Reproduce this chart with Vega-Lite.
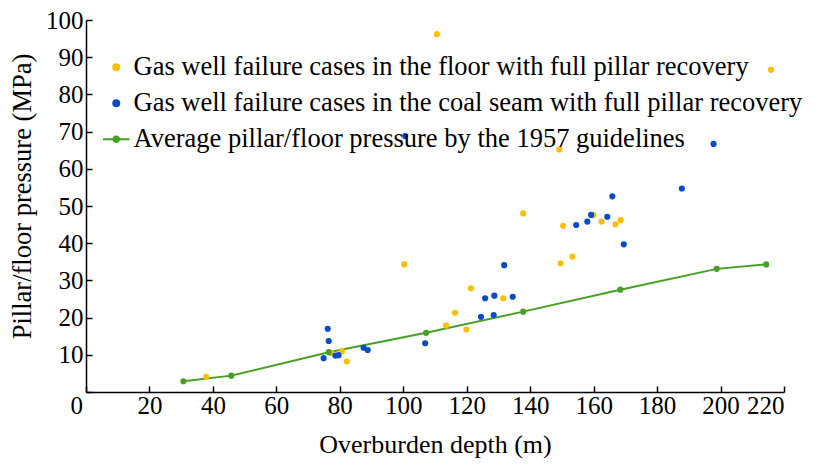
{
  "$schema": "https://vega.github.io/schema/vega-lite/v6.json",
  "width": 698,
  "height": 372,
  "autosize": {"type": "none"},
  "padding": {"left": 86, "top": 20, "right": 30, "bottom": 76},
  "background": "white",
  "config": {
    "view": {"stroke": null},
    "font": "Liberation Serif",
    "axis": {"grid": false, "domainColor": "#000", "domainWidth": 1.5, "tickColor": "#000", "tickWidth": 1.5, "tickSize": -6, "labelFont": "Liberation Serif", "labelFontSize": 25, "labelColor": "#000", "titleFont": "Liberation Serif", "titleFontWeight": "normal", "titleColor": "#000"}
  },
  "data": {"values": [
    {"series": "Gas well failure cases in the floor with full pillar recovery", "depth": 110.6, "pressure": 96.2},
    {"series": "Gas well failure cases in the floor with full pillar recovery", "depth": 215.9, "pressure": 86.6},
    {"series": "Gas well failure cases in the floor with full pillar recovery", "depth": 149.2, "pressure": 65.2},
    {"series": "Gas well failure cases in the floor with full pillar recovery", "depth": 37.9, "pressure": 4.1},
    {"series": "Gas well failure cases in the floor with full pillar recovery", "depth": 100.3, "pressure": 34.3},
    {"series": "Gas well failure cases in the floor with full pillar recovery", "depth": 80.7, "pressure": 10.9},
    {"series": "Gas well failure cases in the floor with full pillar recovery", "depth": 82.2, "pressure": 8.2},
    {"series": "Gas well failure cases in the floor with full pillar recovery", "depth": 77.3, "pressure": 10.5},
    {"series": "Gas well failure cases in the floor with full pillar recovery", "depth": 137.8, "pressure": 48.0},
    {"series": "Gas well failure cases in the floor with full pillar recovery", "depth": 150.4, "pressure": 44.7},
    {"series": "Gas well failure cases in the floor with full pillar recovery", "depth": 149.6, "pressure": 34.6},
    {"series": "Gas well failure cases in the floor with full pillar recovery", "depth": 153.3, "pressure": 36.4},
    {"series": "Gas well failure cases in the floor with full pillar recovery", "depth": 121.3, "pressure": 27.9},
    {"series": "Gas well failure cases in the floor with full pillar recovery", "depth": 116.3, "pressure": 21.3},
    {"series": "Gas well failure cases in the floor with full pillar recovery", "depth": 113.5, "pressure": 17.9},
    {"series": "Gas well failure cases in the floor with full pillar recovery", "depth": 119.9, "pressure": 16.8},
    {"series": "Gas well failure cases in the floor with full pillar recovery", "depth": 131.5, "pressure": 25.2},
    {"series": "Gas well failure cases in the floor with full pillar recovery", "depth": 159.9, "pressure": 47.6},
    {"series": "Gas well failure cases in the floor with full pillar recovery", "depth": 162.5, "pressure": 45.8},
    {"series": "Gas well failure cases in the floor with full pillar recovery", "depth": 166.9, "pressure": 45.1},
    {"series": "Gas well failure cases in the floor with full pillar recovery", "depth": 168.5, "pressure": 46.2},
    {"series": "Gas well failure cases in the coal seam with full pillar recovery", "depth": 100.6, "pressure": 68.8},
    {"series": "Gas well failure cases in the coal seam with full pillar recovery", "depth": 197.8, "pressure": 66.7},
    {"series": "Gas well failure cases in the coal seam with full pillar recovery", "depth": 76.2, "pressure": 17.0},
    {"series": "Gas well failure cases in the coal seam with full pillar recovery", "depth": 76.5, "pressure": 13.7},
    {"series": "Gas well failure cases in the coal seam with full pillar recovery", "depth": 74.9, "pressure": 9.1},
    {"series": "Gas well failure cases in the coal seam with full pillar recovery", "depth": 78.6, "pressure": 9.8},
    {"series": "Gas well failure cases in the coal seam with full pillar recovery", "depth": 79.6, "pressure": 9.9},
    {"series": "Gas well failure cases in the coal seam with full pillar recovery", "depth": 87.5, "pressure": 11.9},
    {"series": "Gas well failure cases in the coal seam with full pillar recovery", "depth": 88.8, "pressure": 11.3},
    {"series": "Gas well failure cases in the coal seam with full pillar recovery", "depth": 106.9, "pressure": 13.1},
    {"series": "Gas well failure cases in the coal seam with full pillar recovery", "depth": 124.5, "pressure": 20.2},
    {"series": "Gas well failure cases in the coal seam with full pillar recovery", "depth": 128.5, "pressure": 20.7},
    {"series": "Gas well failure cases in the coal seam with full pillar recovery", "depth": 125.8, "pressure": 25.2},
    {"series": "Gas well failure cases in the coal seam with full pillar recovery", "depth": 128.7, "pressure": 25.9},
    {"series": "Gas well failure cases in the coal seam with full pillar recovery", "depth": 134.5, "pressure": 25.6},
    {"series": "Gas well failure cases in the coal seam with full pillar recovery", "depth": 131.8, "pressure": 34.1},
    {"series": "Gas well failure cases in the coal seam with full pillar recovery", "depth": 154.5, "pressure": 44.9},
    {"series": "Gas well failure cases in the coal seam with full pillar recovery", "depth": 158.0, "pressure": 45.8},
    {"series": "Gas well failure cases in the coal seam with full pillar recovery", "depth": 159.2, "pressure": 47.6},
    {"series": "Gas well failure cases in the coal seam with full pillar recovery", "depth": 164.3, "pressure": 47.1},
    {"series": "Gas well failure cases in the coal seam with full pillar recovery", "depth": 165.9, "pressure": 52.6},
    {"series": "Gas well failure cases in the coal seam with full pillar recovery", "depth": 169.5, "pressure": 39.7},
    {"series": "Gas well failure cases in the coal seam with full pillar recovery", "depth": 187.8, "pressure": 54.7},
    {"series": "Average pillar/floor pressure by the 1957 guidelines", "depth": 30.7, "pressure": 2.9},
    {"series": "Average pillar/floor pressure by the 1957 guidelines", "depth": 45.8, "pressure": 4.4},
    {"series": "Average pillar/floor pressure by the 1957 guidelines", "depth": 76.5, "pressure": 10.7},
    {"series": "Average pillar/floor pressure by the 1957 guidelines", "depth": 107.2, "pressure": 15.9},
    {"series": "Average pillar/floor pressure by the 1957 guidelines", "depth": 137.8, "pressure": 21.6},
    {"series": "Average pillar/floor pressure by the 1957 guidelines", "depth": 168.4, "pressure": 27.5},
    {"series": "Average pillar/floor pressure by the 1957 guidelines", "depth": 198.8, "pressure": 33.1},
    {"series": "Average pillar/floor pressure by the 1957 guidelines", "depth": 214.4, "pressure": 34.3}
  ]},
  "encoding": {
    "x": {"field": "depth", "type": "quantitative", "title": "Overburden depth (m)",
      "scale": {"domain": [0, 220], "nice": false, "zero": false},
      "axis": {"values": [0, 20, 40, 60, 80, 100, 120, 140, 160, 180, 200, 220], "labelPadding": 7, "titlePadding": 13, "titleFontSize": 26,
        "labelOffset": {"condition": {"test": "datum.value === 0", "value": -16}, "value": 0}}},
    "y": {"field": "pressure", "type": "quantitative", "title": "Pillar/floor pressure (MPa)",
      "scale": {"domain": [0, 100], "nice": false},
      "axis": {"values": [0, 10, 20, 30, 40, 50, 60, 70, 80, 90, 100], "labelExpr": "datum.value === 0 ? '' : datum.label", "labelPadding": 9, "titlePadding": 9, "titleFontSize": 26.5, "titleY": 176}},
    "color": {"field": "series", "type": "nominal",
      "scale": {"domain": ["Gas well failure cases in the floor with full pillar recovery", "Gas well failure cases in the coal seam with full pillar recovery", "Average pillar/floor pressure by the 1957 guidelines"],
        "range": ["#FFBE00", "#0A4CC8", "#45A024"]},
      "legend": {"title": null, "orient": "none", "legendX": 17, "legendY": 34, "padding": 0,
        "labelFont": "Liberation Serif", "labelFontSize": 26.5, "labelColor": "#000", "labelLimit": 0, "labelOffset": 4,
        "symbolSize": 700, "rowPadding": 9, "symbolStrokeWidth": 2,
        "encode": {"symbols": {"update": {
          "shape": {"signal": "datum.value === 'Average pillar/floor pressure by the 1957 guidelines' ? 'M-1,0H1M-0.2,0A0.2,0.2,0,1,1,0.2,0A0.2,0.2,0,1,1,-0.2,0Z' : 'circle'"},
          "size": {"signal": "datum.value === 'Average pillar/floor pressure by the 1957 guidelines' ? 700 : 36"},
          "fill": {"signal": "scale('color', datum.value)"},
          "stroke": {"signal": "datum.value === 'Average pillar/floor pressure by the 1957 guidelines' ? scale('color', datum.value) : 'transparent'"},
          "strokeWidth": {"value": 2},
          "opacity": {"value": 1}
        }}}}}
  },
  "layer": [
    {"transform": [{"filter": "datum.series === 'Average pillar/floor pressure by the 1957 guidelines'"}],
     "mark": {"type": "line", "strokeWidth": 2}},
    {"mark": {"type": "circle", "size": 38, "opacity": 1}}
  ]
}
